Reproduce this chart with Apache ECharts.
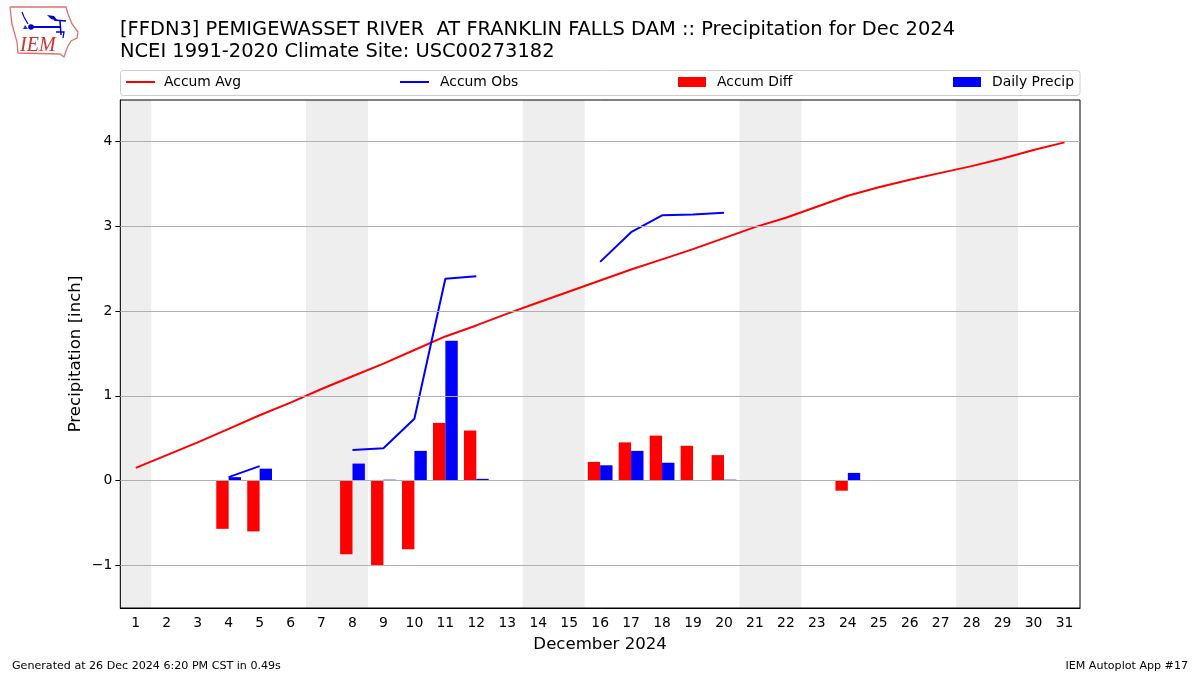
<!DOCTYPE html>
<html><head><meta charset="utf-8">
<style>html,body{margin:0;padding:0;background:#fff}#c{width:1200px;height:675px}</style>
<script src="https://cdn.jsdelivr.net/npm/echarts@6/dist/echarts.min.js"></script>
</head><body><div id="c"></div>
<script>
const days = ['1','2','3','4','5','6','7','8','9','10','11','12','13','14','15','16','17','18','19','20','21','22','23','24','25','26','27','28','29','30','31'];
const accumAvg = [0.15,0.30,0.45,0.61,0.77,0.92,1.08,1.23,1.38,1.54,1.70,1.83,1.97,2.10,2.23,2.36,2.49,2.61,2.73,2.86,2.99,3.10,3.23,3.36,3.46,3.55,3.63,3.71,3.80,3.90,3.99];
const accumObs = [null,null,null,0.04,0.17,null,null,0.36,0.38,0.73,2.38,2.41,null,null,null,2.58,2.93,3.13,3.14,3.16,null,null,null,null,null,null,null,null,null,null,null];
const accumDiff = [null,null,null,-0.57,-0.60,null,null,-0.87,-1.00,-0.81,0.68,0.59,null,null,null,0.22,0.45,0.53,0.41,0.30,null,null,null,-0.12,null,null,null,null,null,null,null];
const dailyPrecip = [null,null,null,0.04,0.14,null,null,0.20,0.01,0.35,1.65,0.02,null,null,null,0.18,0.35,0.21,0,0.01,null,null,null,0.09,null,null,null,null,null,null,null];
const weekendBands = [[0.5,1.5],[6.5,8.5],[13.5,15.5],[20.5,22.5],[27.5,29.5]];
const yTicks = [-1,0,1,2,3,4];
const titleText = '[FFDN3] PEMIGEWASSET RIVER  AT FRANKLIN FALLS DAM :: Precipitation for Dec 2024\nNCEI 1991-2020 Climate Site: USC00273182';

const font = '"DejaVu Sans"';
const chart = echarts.init(document.getElementById('c'), null, {renderer:'canvas'});
const legendBase = {top:75, padding:0, selectedMode:false};
const legendText = pad => ({fontFamily:font,fontSize:13.9,color:'#000',padding:[0,0,0,pad]});
chart.setOption({
  animation:false,
  backgroundColor:'#fff',
  title:[
    {text:titleText,left:120,top:19,padding:0,textStyle:{fontFamily:font,fontSize:19.45,fontWeight:'normal',color:'#000',lineHeight:22}},
    {text:'Generated at 26 Dec 2024 6:20 PM CST in 0.49s',left:12,top:661,padding:0,textStyle:{fontFamily:font,fontSize:11.1,fontWeight:'normal',color:'#000'}},
    {text:'IEM Autoplot App #17',right:12,top:661,padding:0,textStyle:{fontFamily:font,fontSize:11.1,fontWeight:'normal',color:'#000'}}
  ],
  legend:[
    Object.assign({left:126,itemWidth:29,itemHeight:2,data:[{name:'Accum Avg',icon:'rect'}],textStyle:legendText(4)},legendBase),
    Object.assign({left:400,itemWidth:29,itemHeight:2,data:[{name:'Accum Obs',icon:'rect'}],textStyle:legendText(6)},legendBase),
    Object.assign({left:678,itemWidth:28,itemHeight:10,data:[{name:'Accum Diff',icon:'rect'}],textStyle:legendText(6)},legendBase),
    Object.assign({left:953,itemWidth:28,itemHeight:10,data:[{name:'Daily Precip',icon:'rect'}],textStyle:legendText(6)},legendBase)
  ],
  grid:{left:120.3,top:100,width:959.7,height:508,show:true,borderColor:'#000',borderWidth:1,backgroundColor:'transparent',z:5},
  xAxis:[
    {type:'category',data:days,boundaryGap:true,position:'bottom',
     axisLine:{onZero:false,lineStyle:{color:'#000',width:1}},
     axisTick:{alignWithLabel:true,length:5,lineStyle:{color:'#000'}},
     axisLabel:{interval:0,color:'#000',fontFamily:font,fontSize:13.9,margin:8},
     splitLine:{show:false},
     name:'December 2024',nameLocation:'middle',nameGap:28,nameTextStyle:{fontFamily:font,fontSize:16.6,color:'#000'}},
    {type:'value',min:0.5,max:31.5,show:false,splitLine:{show:false}}
  ],
  yAxis:{type:'value',min:-1.504,max:4.49,
     axisLine:{show:true,onZero:false,lineStyle:{color:'#000',width:1}},
     axisTick:{show:true,length:5,lineStyle:{color:'#000'},customValues:yTicks},
     axisLabel:{color:'#000',fontFamily:font,fontSize:13.9,margin:8,padding:[2,0,0,0],customValues:yTicks,
       formatter:v=>v<0?'\u2212'+Math.abs(v):String(v)},
     splitLine:{show:false},
     name:'Precipitation [inch]',nameLocation:'middle',nameGap:36,nameMoveOverlap:false,nameRotate:90,nameTextStyle:{fontFamily:font,fontSize:16.6,color:'#000'}},
  series:[
    {name:'weekend',type:'line',xAxisIndex:1,yAxisIndex:0,data:[],z:1,silent:true,
     markArea:{silent:true,itemStyle:{color:'#eeeeee'},data:weekendBands.map(b=>[{xAxis:b[0]},{xAxis:b[1]}])}},
    {name:'gridlines',type:'line',xAxisIndex:1,yAxisIndex:0,data:[],z:2,silent:true,
     markLine:{silent:true,symbol:'none',label:{show:false},lineStyle:{color:'#b0b0b0',width:1,type:'solid'},data:yTicks.map(v=>({yAxis:v}))}},
    {name:'Accum Diff',type:'bar',data:accumDiff,barWidth:'40%',barGap:0,itemStyle:{color:'#ff0000'},z:3},
    {name:'Daily Precip',type:'bar',data:dailyPrecip,barWidth:'40%',barGap:0,itemStyle:{color:'#0000ff'},z:3},
    {name:'Accum Avg',type:'line',data:accumAvg,showSymbol:false,symbol:'none',lineStyle:{color:'#ff0000',width:2},itemStyle:{color:'#ff0000'},z:4},
    {name:'Accum Obs',type:'line',data:accumObs,showSymbol:false,symbol:'none',connectNulls:false,lineStyle:{color:'#0000ff',width:2},itemStyle:{color:'#0000ff'},z:4}
  ],
  graphic:[
    {type:'rect',z:-1,shape:{x:120.5,y:70.5,width:959.5,height:25,r:3},style:{fill:'#fff',stroke:'#cccccc',lineWidth:1}},
    {type:'polyline',shape:{points:[[10,7],[66,7],[68,14],[72,24],[78,32],[77,38],[71,41],[68,46],[66,51],[64,57],[60,54],[18,53],[17,42],[12,24],[10,7]]},style:{fill:'none',stroke:'#e07070',lineWidth:1.3}},
    {type:'polyline',shape:{points:[[31,27],[61,27]]},style:{stroke:'#0000e0',lineWidth:2,fill:'none'}},
    {type:'circle',shape:{cx:31,cy:27,r:2.8},style:{fill:'#0000c0'}},
    {type:'polygon',shape:{points:[[47,15],[54,16],[58,21],[51,19]]},style:{fill:'#0000c0'}},
    {type:'polyline',shape:{points:[[54,20],[66,21]]},style:{stroke:'#0000e0',lineWidth:1.5,fill:'none'}},
    {type:'polyline',shape:{points:[[60,21],[61,35]]},style:{stroke:'#0000e0',lineWidth:1.5,fill:'none'}},
    {type:'polyline',shape:{points:[[22,12],[24,17],[28,24]]},style:{stroke:'#0000e0',lineWidth:1.2,fill:'none'}},
    {type:'polyline',shape:{points:[[56,32],[64,32],[63,38]]},style:{stroke:'#0000e0',lineWidth:1.3,fill:'none'}},
    {type:'polygon',shape:{points:[[23,29],[25,25],[28,29]]},style:{fill:'#3030c0'}},
    {type:'text',style:{x:20,y:36,text:'IEM',fill:'#d03030',font:'italic 20px "Liberation Serif"'}}
  ]
});
</script></body></html>
